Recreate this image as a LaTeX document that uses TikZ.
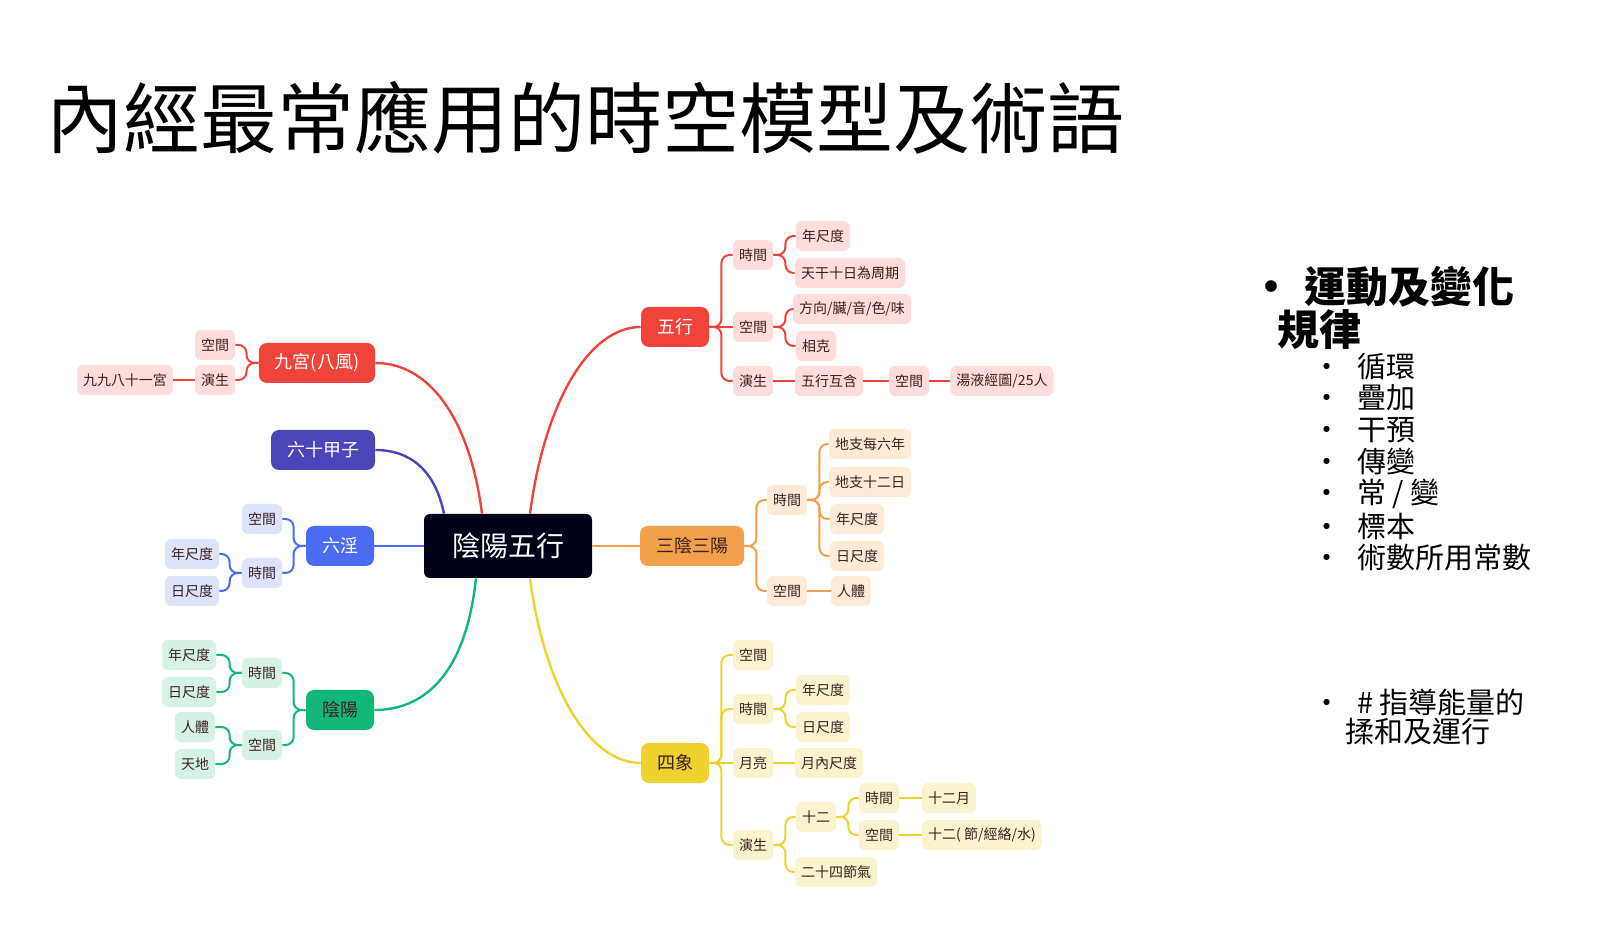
\documentclass[tikz,border=0pt]{standalone}
\usepackage{fontspec}
\newfontfamily\cjk{Noto Sans CJK TC}
\usetikzlibrary{calc}
\definecolor{cR}{HTML}{F0443A}\definecolor{lR}{HTML}{FDDCDB}
\definecolor{cP}{HTML}{4B45B8}
\definecolor{cB}{HTML}{4A6CF2}\definecolor{lB}{HTML}{DDE3FB}
\definecolor{cG}{HTML}{12B77A}\definecolor{lG}{HTML}{D5F3E5}
\definecolor{cO}{HTML}{F3A04C}\definecolor{lO}{HTML}{FDEBD6}
\definecolor{cY}{HTML}{F0D12E}\definecolor{lY}{HTML}{FBF2CE}
\definecolor{ink}{HTML}{3A2020}
\begin{document}
\begin{tikzpicture}[x=0.5pt,y=-0.5pt,font=\cjk,
 sm/.style={fill=#1,rounded corners=3pt,inner xsep=3pt,inner ysep=0pt,minimum height=15pt,font=\cjk\fontsize{7}{8}\selectfont,text=ink},
 big/.style={fill=#1,rounded corners=4pt,inner xsep=8pt,minimum height=20pt,font=\cjk\fontsize{9}{10}\selectfont,text=white},
 br/.style={draw=#1,line width=1pt,rounded corners=4pt},
 cv/.style={draw=#1,line width=1.2pt}]
\useasboundingbox (0,0) rectangle (1600,929);
\node[anchor=west,font=\cjk\fontsize{38.5}{40}\selectfont,inner sep=0] (title) at (46,118) {內經最常應用的時空模型及術語};
% center
\node[fill=black!90!blue,rounded corners=3pt,minimum width=84pt,minimum height=32pt,text=white,font=\cjk\fontsize{14}{16}\selectfont] (C) at (508,546) {陰陽五行};
% main
\node[big=cR] (wx) at (675,327) {五行};
\node[big=cO,text=ink] (ss) at (692,546) {三陰三陽};
\node[big=cY,text=ink] (sx) at (675,763) {四象};
\node[big=cR] (jg) at (317,363) {九宮(八風)};
\node[big=cP] (lj) at (323,450) {六十甲子};
\node[big=cB] (ly) at (340,546) {六淫};
\node[big=cG,text=ink] (yy) at (340,710) {陰陽};
% curves
\draw[cv=cR] ([xshift=11pt]C.north) .. controls (545,400) and (590,327) .. (wx.west);
\draw[cv=cO] (C.east) -- (ss.west);
\draw[cv=cY] ([xshift=11pt]C.south) .. controls (545,690) and (590,763) .. (sx.west);
\draw[cv=cR] ([xshift=-13pt]C.north) .. controls (470,420) and (430,363) .. (jg.east);
\draw[cv=cP] ([xshift=-32pt]C.north) .. controls (435,470) and (410,450) .. (lj.east);
\draw[cv=cB] (C.west) -- (ly.east);
\draw[cv=cG] ([xshift=-16pt]C.south) .. controls (465,680) and (420,710) .. (yy.east);
% 五行
\node[sm=lR] (w1) at (753,255) {時間};
\node[sm=lR] (w2) at (753,327) {空間};
\node[sm=lR] (w3) at (753,381) {演生};
\node[sm=lR] (w11) at (823,236) {年尺度};
\node[sm=lR] (w12) at (850,273) {天干十日為周期};
\node[sm=lR] (w21) at (852,309) {方向/臟/音/色/味};
\node[sm=lR] (w22) at (816,346) {相克};
\node[sm=lR] (w31) at (829,381) {五行互含};
\node[sm=lR] (w32) at (909,381) {空間};
\node[sm=lR] (w33) at (1002,381) {湯液經圖/25人};
\foreach \a/\b in {wx/w1,wx/w3,w1/w11,w1/w12,w2/w21,w2/w22}
 \draw[br=cR] (\a.east) -- +(12,0) |- (\b.west);
\foreach \a/\b in {wx/w2,w3/w31,w31/w32,w32/w33}
 \draw[br=cR] (\a.east) -- (\b.west);
% 九宮
\node[sm=lR] (j1) at (215,345) {空間};
\node[sm=lR] (j2) at (215,380) {演生};
\node[sm=lR] (j21) at (125,380) {九九八十一宮};
\foreach \a/\b in {jg/j1,jg/j2}
 \draw[br=cR] (\a.west) -- +(-12,0) |- (\b.east);
\draw[br=cR] (j2.west) -- (j21.east);
% 六淫
\node[sm=lB] (l1) at (262,519) {空間};
\node[sm=lB] (l2) at (262,573) {時間};
\node[sm=lB] (l21) at (192,554) {年尺度};
\node[sm=lB] (l22) at (192,591) {日尺度};
\foreach \a/\b in {ly/l1,ly/l2,l2/l21,l2/l22}
 \draw[br=cB] (\a.west) -- +(-12,0) |- (\b.east);
% 陰陽
\node[sm=lG] (y1) at (262,673) {時間};
\node[sm=lG] (y2) at (262,745) {空間};
\node[sm=lG] (y11) at (189,655) {年尺度};
\node[sm=lG] (y12) at (189,692) {日尺度};
\node[sm=lG] (y21) at (195,727) {人體};
\node[sm=lG] (y22) at (195,764) {天地};
\foreach \a/\b in {yy/y1,yy/y2,y1/y11,y1/y12,y2/y21,y2/y22}
 \draw[br=cG] (\a.west) -- +(-12,0) |- (\b.east);
% 三陰三陽
\node[sm=lO] (s1) at (787,500) {時間};
\node[sm=lO] (s2) at (787,591) {空間};
\node[sm=lO] (s11) at (870,444) {地支每六年};
\node[sm=lO] (s12) at (870,482) {地支十二日};
\node[sm=lO] (s13) at (857,519) {年尺度};
\node[sm=lO] (s14) at (857,556) {日尺度};
\node[sm=lO] (s21) at (851,591) {人體};
\foreach \a/\b in {ss/s1,ss/s2,s1/s11,s1/s12,s1/s13,s1/s14}
 \draw[br=cO] (\a.east) -- +(12,0) |- (\b.west);
\draw[br=cO] (s2.east) -- (s21.west);
% 四象
\node[sm=lY] (x1) at (753,655) {空間};
\node[sm=lY] (x2) at (753,709) {時間};
\node[sm=lY] (x3) at (753,763) {月亮};
\node[sm=lY] (x4) at (753,845) {演生};
\node[sm=lY] (x21) at (823,690) {年尺度};
\node[sm=lY] (x22) at (823,727) {日尺度};
\node[sm=lY] (x31) at (829,763) {月內尺度};
\node[sm=lY] (x41) at (816,817) {十二};
\node[sm=lY] (x42) at (836,872) {二十四節氣};
\node[sm=lY] (x411) at (879,798) {時間};
\node[sm=lY] (x412) at (879,835) {空間};
\node[sm=lY] (x4111) at (949,798) {十二月};
\node[sm=lY] (x4121) at (982,835) {十二( 節/經絡/水)};
\foreach \a/\b in {sx/x1,sx/x2,sx/x4,x2/x21,x2/x22,x4/x41,x4/x42,x41/x411,x41/x412}
 \draw[br=cY] (\a.east) -- +(12,0) |- (\b.west);
\foreach \a/\b in {sx/x3,x3/x31,x411/x4111,x412/x4121}
 \draw[br=cY] (\a.east) -- (\b.west);
% right text
\node[anchor=west,inner sep=0,font=\cjk\fontsize{21}{18}\selectfont\bfseries,align=left] (t1) at (1250,308) {•\hspace{6pt}運動及變化\\\hspace{13.5pt}規律};
\foreach \t [count=\i] in {循環,疊加,干預,傳變,常 / 變,標本,術數所用常數}
 \node[anchor=west,inner sep=0,font=\cjk\fontsize{14.5}{16}\selectfont] (b\i) at (1312,{334+32*\i}) {•\hspace{8pt}\t};
\node[anchor=west,inner sep=0,font=\cjk\fontsize{14.5}{12}\selectfont,align=left] (t2) at (1312,717) {•\hspace{8pt}\# 指導能量的\\\hspace{16.5pt}揉和及運行};
\end{tikzpicture}
\end{document}
